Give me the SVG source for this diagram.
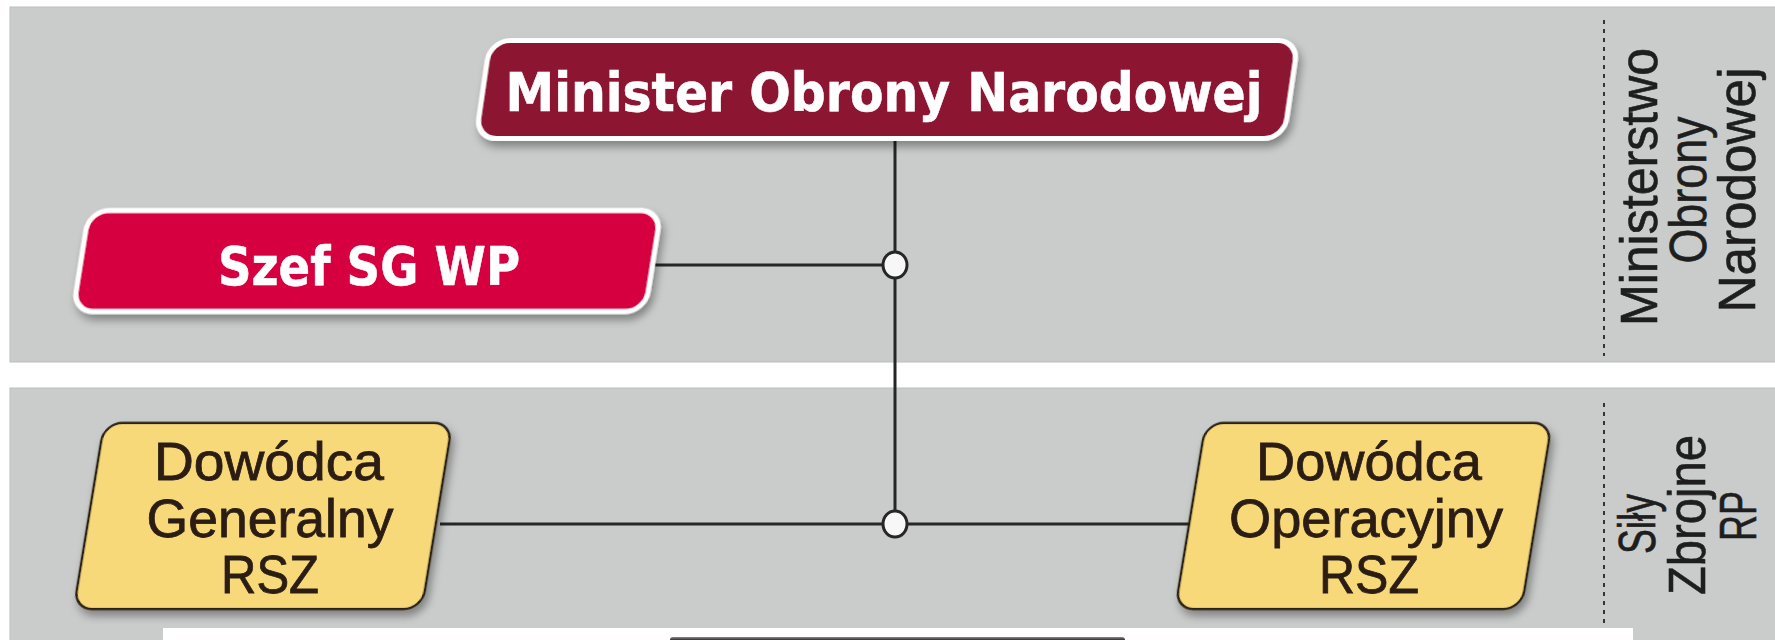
<svg xmlns="http://www.w3.org/2000/svg" width="1775" height="640" viewBox="0 0 1775 640">
  <defs>
    <filter id="shadow" x="-10%" y="-20%" width="125%" height="150%">
      <feDropShadow dx="4" dy="6" stdDeviation="4" flood-color="#000" flood-opacity="0.35"/>
    </filter>
    <linearGradient id="darkbox" x1="0" y1="0" x2="0" y2="1">
      <stop offset="0" stop-color="#8a8a8a"/>
      <stop offset="0.4" stop-color="#2a2a2a"/>
      <stop offset="1" stop-color="#111"/>
    </linearGradient>
  </defs>
  <style>
    .band { fill: #c9cccb; stroke: #bcbfbe; stroke-width: 1; }
    .red-dark { fill: #8c1430; stroke: #ffffff; stroke-width: 5; }
    .red { fill: #d6003f; stroke: #ffffff; stroke-width: 5; }
    .yellow { fill: #f8d97a; stroke: #2b2014; stroke-width: 2.5; }
    .btxt { font-family: "DejaVu Sans", "Liberation Sans", sans-serif; font-weight: bold; font-size: 54px; fill: #ffffff; stroke: #ffffff; stroke-width: 0.6; text-anchor: middle; }
    .ytxt { font-family: "Liberation Sans", "DejaVu Sans", sans-serif; font-size: 53px; fill: #2b1d14; stroke: #2b1d14; stroke-width: 0.8; text-anchor: middle; }
    .vtxt { font-family: "Liberation Sans", "DejaVu Sans", sans-serif; font-size: 51px; fill: #1e1e1e; stroke: #1e1e1e; stroke-width: 0.6; text-anchor: middle; }
    .conn { stroke: #262626; stroke-width: 3; fill: none; }
    .dot { fill: #f7f7f7; stroke: #262626; stroke-width: 3; }
    .dash { stroke: #333; stroke-width: 2; stroke-dasharray: 4 5; fill: none; }
  </style>

  <rect x="0" y="0" width="1775" height="640" fill="#ffffff"/>

  <g id="bands">
    <rect class="band" x="10" y="7" width="1770" height="355"/>
    <rect class="band" x="10" y="388" width="1770" height="260"/>
    <line class="dash" x1="1604" y1="20" x2="1604" y2="356"/>
    <line class="dash" x1="1604" y1="403" x2="1604" y2="628"/>
  </g>

  <g id="label-mon">
    <text class="vtxt" transform="translate(1657,187) rotate(-90)" textLength="278" lengthAdjust="spacingAndGlyphs">Ministerstwo</text>
    <text class="vtxt" transform="translate(1706,190) rotate(-90)" textLength="147" lengthAdjust="spacingAndGlyphs">Obrony</text>
    <text class="vtxt" transform="translate(1755,190) rotate(-90)" textLength="245" lengthAdjust="spacingAndGlyphs">Narodowej</text>
  </g>
  <g id="label-sz">
    <text class="vtxt" transform="translate(1655,524) rotate(-90)" textLength="60" lengthAdjust="spacingAndGlyphs">Siły</text>
    <text class="vtxt" transform="translate(1705,515) rotate(-90)" textLength="160" lengthAdjust="spacingAndGlyphs">Zbrojne</text>
    <text class="vtxt" transform="translate(1756,516) rotate(-90)" textLength="50" lengthAdjust="spacingAndGlyphs">RP</text>
  </g>

  <g id="connectors">
    <line class="conn" x1="895" y1="141" x2="895" y2="524"/>
    <line class="conn" x1="655" y1="265" x2="895" y2="265"/>
    <line class="conn" x1="440" y1="524" x2="1190" y2="524"/>
    <ellipse class="dot" cx="895" cy="265" rx="12" ry="13"/>
    <ellipse class="dot" cx="895" cy="524" rx="12" ry="13"/>
  </g>

  <g id="minister">
    <rect class="red-dark" filter="url(#shadow)" transform="translate(887,89.5) skewX(-8.3)" x="-404" y="-49" width="808" height="98" rx="20"/>
    <text class="btxt" x="884" y="111" textLength="757" lengthAdjust="spacingAndGlyphs">Minister Obrony Narodowej</text>
  </g>

  <g id="szef">
    <rect class="red" filter="url(#shadow)" transform="translate(367,261) skewX(-9)" x="-286" y="-50.5" width="572" height="101" rx="20"/>
    <text class="btxt" x="369" y="285" textLength="302" lengthAdjust="spacingAndGlyphs">Szef SG WP</text>
  </g>

  <g id="dowodca-generalny">
    <rect class="yellow" filter="url(#shadow)" transform="translate(263,516) skewX(-9.3)" x="-174" y="-93" width="348" height="186" rx="18"/>
    <text class="ytxt" x="269" y="480" textLength="230" lengthAdjust="spacingAndGlyphs">Dowódca</text>
    <text class="ytxt" x="270" y="537" textLength="247" lengthAdjust="spacingAndGlyphs">Generalny</text>
    <text class="ytxt" x="270" y="593" textLength="98" lengthAdjust="spacingAndGlyphs">RSZ</text>
  </g>

  <g id="dowodca-operacyjny">
    <rect class="yellow" filter="url(#shadow)" transform="translate(1363.5,516) skewX(-9.3)" x="-173" y="-93" width="346" height="186" rx="18"/>
    <text class="ytxt" x="1369" y="480" textLength="226" lengthAdjust="spacingAndGlyphs">Dowódca</text>
    <text class="ytxt" x="1366" y="537" textLength="274" lengthAdjust="spacingAndGlyphs">Operacyjny</text>
    <text class="ytxt" x="1369" y="593" textLength="100" lengthAdjust="spacingAndGlyphs">RSZ</text>
  </g>

  <g id="bottom-panel">
    <rect x="163" y="628" width="1470" height="14" fill="#ffffff"/>
    <rect x="670" y="637" width="455" height="8" rx="3" fill="url(#darkbox)"/>
  </g>
</svg>
